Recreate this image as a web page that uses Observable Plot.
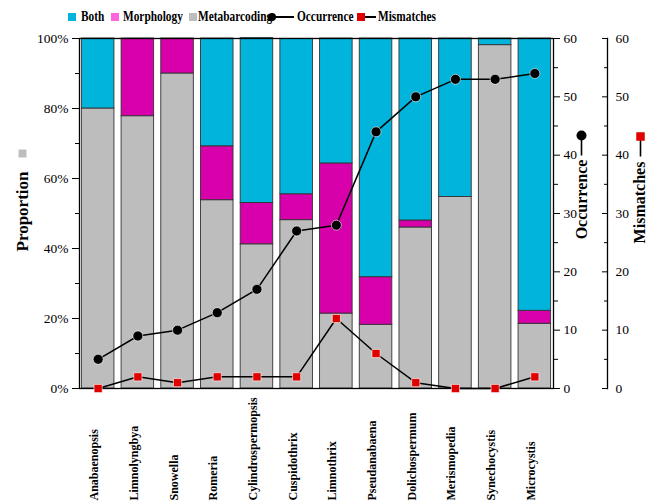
<!DOCTYPE html>
<html><head><meta charset="utf-8">
<script src="https://cdn.jsdelivr.net/npm/d3@7"></script>
<script src="https://cdn.jsdelivr.net/npm/@observablehq/plot@0.6"></script>
<style>
body{margin:0;background:#fff;font-family:"Liberation Serif","Times New Roman","DejaVu Serif",serif;color:#000;}
#legend{position:relative;height:30px;width:648px;font-weight:bold;font-size:14px;}
#legend .sw{position:absolute;top:13px;width:8px;height:8px;}
#legend .tx{position:absolute;top:8px;line-height:17px;white-space:nowrap;transform:scaleX(0.81);transform-origin:0 50%;}
#legend .ln{position:absolute;top:16px;height:2px;background:#000;}
#legend .dot{position:absolute;top:13px;width:8px;height:8px;border-radius:50%;background:#000;}
#chart svg{display:block;}
</style></head>
<body>
<div id="legend">
  <div class="sw" style="left:68px;background:#00b4dc"></div><div class="tx" style="left:81px">Both</div>
  <div class="sw" style="left:111px;background:#ff66dd"></div><div class="tx" style="left:123px">Morphology</div>
  <div class="sw" style="left:189px;background:#bdbdbd"></div><div class="tx" style="left:198px">Metabarcoding</div>
  <div class="ln" style="left:272px;width:22px"></div><div class="dot" style="left:268px"></div><div class="tx" style="left:297px">Occurrence</div>
  <div class="ln" style="left:362px;width:14px"></div><div class="sw" style="left:357px;background:#e00000"></div><div class="tx" style="left:378px">Mismatches</div>
</div>
<div id="chart"></div>
<script>
const categories = ["Anabaenopsis","Limnolyngbya","Snowella","Romeria","Cylindrospermopsis","Cuspidothrix","Limnothrix","Pseudanabaena","Dolichospermum","Merismopedia","Synechocystis","Microcystis"];
const metabarcoding = [80, 77.8, 90, 53.8, 41.2, 48.1, 21.4, 18.2, 46, 54.7, 98.1, 18.5];
const morphology = [0, 22.2, 10, 15.4, 11.8, 7.4, 42.9, 13.6, 2, 0, 0, 3.7];
const both = [20, 0, 0, 30.8, 47.1, 44.4, 35.7, 68.2, 52, 45.3, 1.9, 77.8];
const occurrence = [5, 9, 10, 13, 17, 27, 28, 44, 50, 53, 53, 54];
const mismatches = [0, 2, 1, 2, 2, 2, 12, 6, 1, 0, 0, 2];
const leftTicks = [0, 20, 40, 60, 80, 100];
const rightTicks = [0, 10, 20, 30, 40, 50, 60];

const seriesNames = ["Metabarcoding", "Morphology", "Both"];
const seriesColors = ["#bdbdbd", "#d800aa", "#00b4dc"];
const seriesVals = [metabarcoding, morphology, both];
const stacked = [];
seriesNames.forEach((s, si) => categories.forEach((c, i) => stacked.push({cat: c, series: s, value: seriesVals[si][i] / 100})));
const lineData = categories.map((c, i) => ({cat: c, occ: occurrence[i] / 60, mis: mismatches[i] / 60}));

const rMax = 60;
const major = rightTicks.map(v => v / rMax);
const minor = [5, 15, 25, 35, 45, 55].map(v => v / rMax);
const stick = {draw(ctx) { ctx.moveTo(0, 0); ctx.lineTo(0, 20); }};
const FF = "'Liberation Serif', 'Times New Roman', 'DejaVu Serif', serif";
const font = {fontFamily: FF, fontSize: 13.5};
const title = {rotate: -90, textAnchor: "middle", fontWeight: "bold", fontSize: 16, fontFamily: FF, fill: "#000"};

const chart = Plot.plot({
  width: 648, height: 473,
  marginLeft: 79, marginRight: 95, marginTop: 8, marginBottom: 115,
  style: {fontFamily: FF, fontSize: "13px", color: "#000", background: "#fff"},
  x: {domain: categories, paddingInner: 0.18, paddingOuter: 0.06, round: false, axis: null},
  y: {domain: [0, 1], axis: null},
  color: {domain: seriesNames, range: seriesColors},
  marks: [
    Plot.barY(stacked, Plot.stackY({x: "cat", y: "value", fill: "series", order: seriesNames, stroke: "#333", strokeWidth: 0.9})),
    Plot.frame({stroke: "#000", strokeWidth: 1.3}),
    // left axis
    Plot.axisY(leftTicks.map(v => v / 100), {anchor: "left", tickSize: 7, tickPadding: 4, tickFormat: d => Math.round(d * 100) + "%", label: null, ...font}),
    Plot.axisY([0.1, 0.3, 0.5, 0.7, 0.9], {anchor: "left", tickSize: 4, tickFormat: () => "", label: null}),
    // first right axis (Occurrence)
    Plot.axisY(major, {anchor: "right", tickSize: 6, tickPadding: 4, tickFormat: d => Math.round(d * rMax), label: null, ...font}),
    Plot.axisY(minor, {anchor: "right", tickSize: 4, tickFormat: () => "", label: null}),
    // second right axis (Mismatches)
    Plot.frame({anchor: "right", dx: 54, stroke: "#000", strokeWidth: 1.3}),
    Plot.axisY(major, {anchor: "left", dx: 528, tickSize: 5, tickFormat: () => "", label: null}),
    Plot.axisY(minor, {anchor: "left", dx: 528, tickSize: 3, tickFormat: () => "", label: null}),
    Plot.axisY(major, {anchor: "right", dx: 54, tickSize: 0, tickPadding: 8, tickFormat: d => Math.round(d * rMax), label: null, ...font}),
    // lines
    Plot.line(lineData, {x: "cat", y: "occ", stroke: "#000", strokeWidth: 1.5}),
    Plot.dot(lineData, {x: "cat", y: "occ", r: 5, fill: "#000", stroke: "#fff", strokeWidth: 0.6}),
    Plot.line(lineData, {x: "cat", y: "mis", stroke: "#000", strokeWidth: 1.5}),
    Plot.dot(lineData, {x: "cat", y: "mis", r: 4.6, symbol: "square", fill: "#e00000", stroke: "#fff", strokeWidth: 0.6}),
    // category labels
    Plot.text(categories, {x: d => d, frameAnchor: "bottom", rotate: -90, textAnchor: "start", dy: 112, fontWeight: "bold", fontSize: 12, fontFamily: FF, fill: "#000"}),
    // axis titles
    Plot.text(["Proportion"], {frameAnchor: "left", dx: -57, dy: -2, ...title, fontSize: 17}),
    Plot.dot([0], {frameAnchor: "left", dx: -57, dy: -60, symbol: "square", r: 4.5, fill: "#bdbdbd"}),
    Plot.text(["Occurrence"], {frameAnchor: "right", dx: 28, dy: -14, ...title}),
    Plot.dot([0], {frameAnchor: "right", dx: 28, dy: -78, symbol: stick, r: 4, stroke: "#000", strokeWidth: 1.6, fill: "none"}),
    Plot.dot([0], {frameAnchor: "right", dx: 28, dy: -78, r: 5, fill: "#000"}),
    Plot.text(["Mismatches"], {frameAnchor: "right", dx: 86, dy: -11, ...title}),
    Plot.dot([0], {frameAnchor: "right", dx: 87, dy: -77, symbol: stick, r: 4, stroke: "#000", strokeWidth: 1.6, fill: "none"}),
    Plot.dot([0], {frameAnchor: "right", dx: 87, dy: -77, symbol: "square", r: 4.8, fill: "#e00000"})
  ]
});
document.getElementById("chart").appendChild(chart);
</script>
</body></html>
